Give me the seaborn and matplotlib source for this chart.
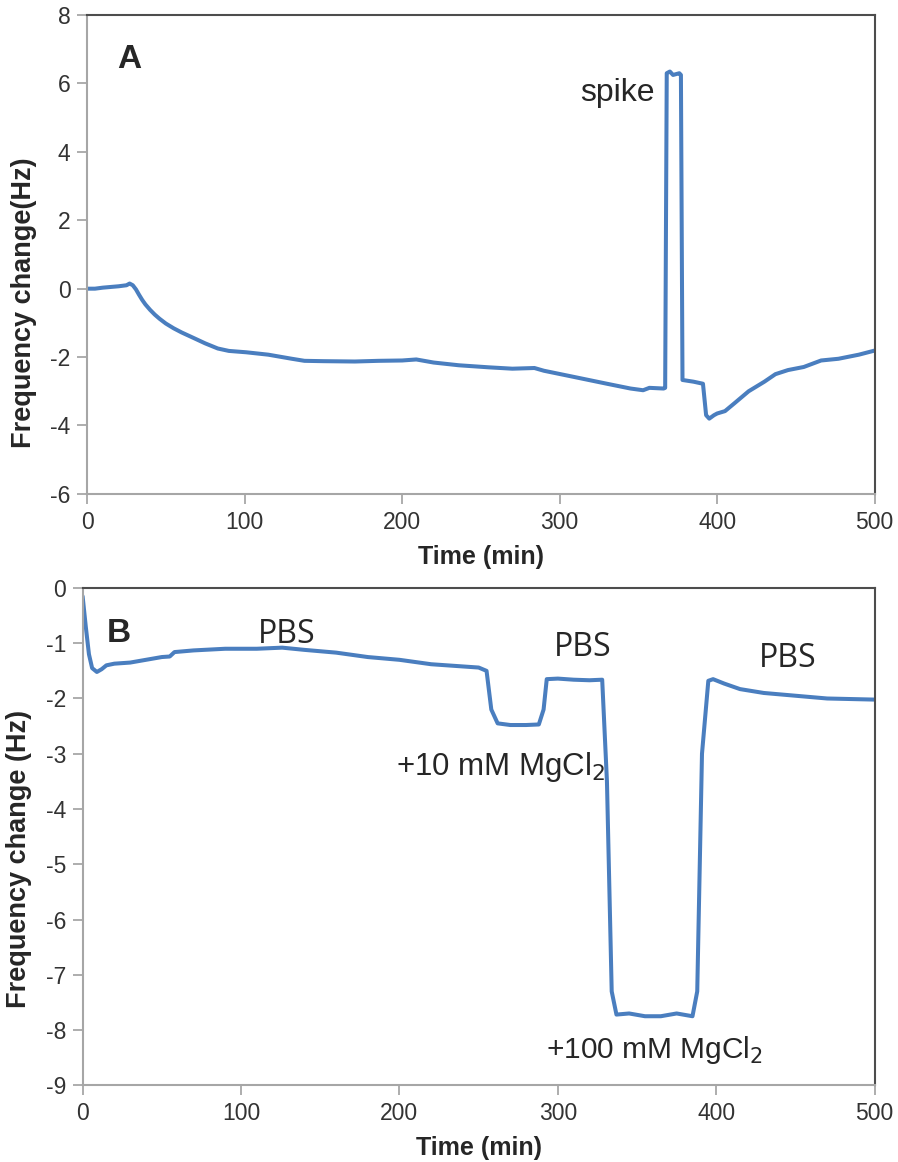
import numpy as np
import pandas as pd
import matplotlib
matplotlib.use("Agg")
import matplotlib.pyplot as plt
import seaborn as sns

# ---- Panel A data ----
time_a = [0, 5, 10, 15, 20, 25, 27, 29, 31, 33, 35, 37, 40, 43, 46, 50, 55, 60, 68, 75, 83, 90,
          101, 115, 130, 138, 150, 170, 185, 200, 209, 220, 236, 255, 270, 284, 290, 309,
          330, 345, 353, 357, 366, 367, 368, 370, 372, 376, 377, 378, 385, 391, 393, 395,
          398, 400, 405, 411, 420, 430, 437, 445, 455, 466, 477, 490, 500]
freq_a = [0.0, 0.0, 0.03, 0.05, 0.07, 0.1, 0.15, 0.1, -0.02, -0.18, -0.33, -0.46, -0.62, -0.76,
          -0.88, -1.02, -1.16, -1.28, -1.45, -1.6, -1.75, -1.82, -1.86, -1.93, -2.05, -2.11,
          -2.12, -2.13, -2.11, -2.1, -2.07, -2.16, -2.24, -2.3, -2.34, -2.32, -2.4, -2.58,
          -2.78, -2.92, -2.97, -2.9, -2.92, -2.9, 6.3, 6.35, 6.25, 6.3, 6.25, -2.67, -2.72,
          -2.78, -3.7, -3.8, -3.7, -3.65, -3.58, -3.35, -3.0, -2.72, -2.5, -2.38, -2.29,
          -2.1, -2.05, -1.93, -1.81]

# ---- Panel B data ----
time_b = [0, 2, 4, 6, 9, 12, 15, 20, 30, 40, 50, 55, 58, 70, 90, 110, 126, 140, 160, 180,
          200, 220, 240, 250, 255, 258, 262, 270, 280, 288, 291, 293, 300, 310, 320, 328,
          331, 334, 337, 345, 355, 365, 375, 385, 388, 391, 395, 398, 405, 415, 430, 450,
          470, 500]
freq_b = [-0.15, -0.7, -1.2, -1.45, -1.52, -1.47, -1.4, -1.37, -1.35, -1.3, -1.25, -1.24,
          -1.16, -1.13, -1.1, -1.1, -1.08, -1.12, -1.17, -1.25, -1.3, -1.38, -1.42, -1.44,
          -1.5, -2.2, -2.45, -2.48, -2.48, -2.47, -2.2, -1.65, -1.64, -1.66, -1.67, -1.66,
          -3.5, -7.3, -7.72, -7.7, -7.75, -7.75, -7.7, -7.75, -7.3, -3.0, -1.68, -1.65,
          -1.73, -1.83, -1.9, -1.95, -2.0, -2.02]

xticks = [0, 100, 200, 300, 400, 500]
yticks_a = [-6, -4, -2, 0, 2, 4, 6, 8]
yticks_b = [-9, -8, -7, -6, -5, -4, -3, -2, -1, 0]

sns.set_style("white")
plt.rcParams['font.family'] = ['Liberation Sans', 'DejaVu Sans']

LINE = "#4a7ebf"
fig = plt.figure(figsize=(8.98, 11.62), dpi=100)
axA = fig.add_axes([0.097, 0.575, 0.877, 0.412])
axB = fig.add_axes([0.092, 0.066, 0.882, 0.428])

dfa = pd.DataFrame({"t": time_a, "f": freq_a})
dfb = pd.DataFrame({"t": time_b, "f": freq_b})
sns.lineplot(data=dfa, x="t", y="f", ax=axA, sort=False, estimator=None, color=LINE, linewidth=2.9)
sns.lineplot(data=dfb, x="t", y="f", ax=axB, sort=False, estimator=None, color=LINE, linewidth=2.9)

for ax, yt, lab, ly in [(axA, yticks_a, "Frequency change(Hz)", 0.40),
                        (axB, yticks_b, "Frequency change (Hz)", 0.455)]:
    ax.set_xlim(0, 500)
    ax.set_ylim(yt[0], yt[-1])
    ax.set_xticks(xticks)
    ax.set_yticks(yt)
    ax.set_xticklabels([str(v) for v in xticks])
    ax.set_yticklabels([str(v) for v in yt])
    ax.tick_params(axis="both", direction="out", length=7, width=1.2, color="#a0a0a0",
                   labelsize=16.5, labelcolor="#333333", bottom=True, left=True, pad=5)
    for s in ["left", "bottom"]:
        ax.spines[s].set_color("#a6a6a6")
        ax.spines[s].set_linewidth(1.5)
    for s in ["top", "right"]:
        ax.spines[s].set_color("#4d4d4d")
        ax.spines[s].set_linewidth(1.5)
    ax.set_xlabel("Time (min)", fontsize=18, fontweight="bold", labelpad=8)
    ax.set_ylabel(lab, fontsize=19.5, fontweight="bold")
    ax.yaxis.set_label_coords(-0.064, ly)

# annotations panel A
axA.text(27, 6.7, "A", fontsize=24, fontweight="bold", ha="center", va="center")
axA.text(337, 5.72, "spike", fontsize=23, ha="center", va="center")

# annotations panel B
axB.text(23, -0.82, "B", fontsize=24, fontweight="bold", ha="center", va="center")
for (x, y) in [(129, -0.85), (316, -1.07), (445, -1.27)]:
    axB.text(x, y, "PBS", fontsize=23, ha="center", va="center", family="Open Sans")
axB.text(264, -3.24, "+10 mM MgCl$_2$", fontsize=22.5, ha="center", va="center")
axB.text(361, -8.37, "+100 mM MgCl$_2$", fontsize=21.5, ha="center", va="center")

fig.savefig("out.png", dpi=100, facecolor="white")
